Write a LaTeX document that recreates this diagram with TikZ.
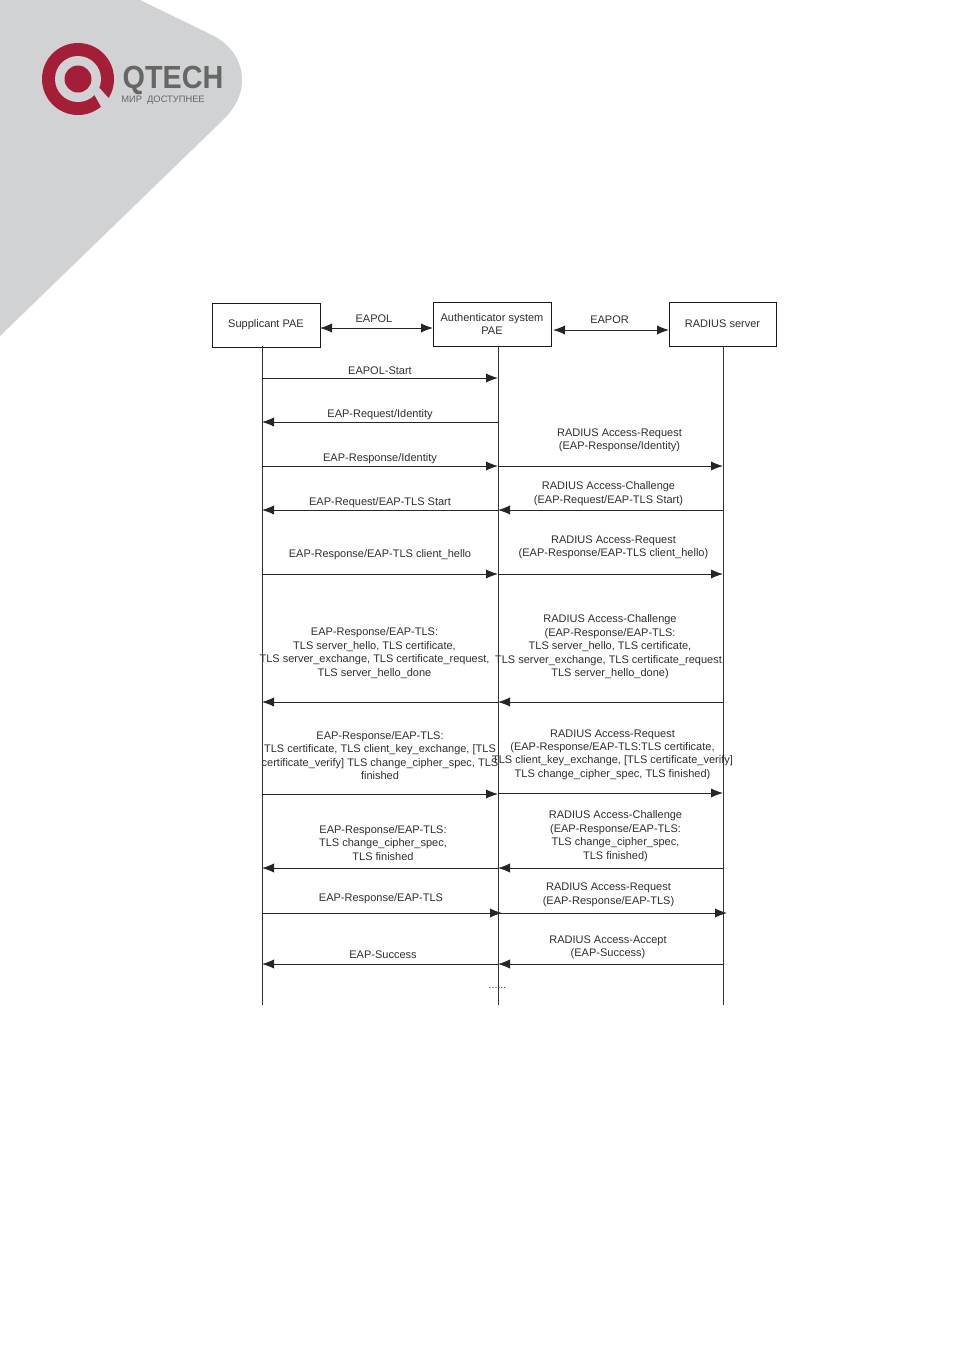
\documentclass[tikz,border=0pt]{standalone}
\usepackage{fontspec}
\setmainfont{Liberation Sans}
\usetikzlibrary{arrows.meta}
\definecolor{panelgray}{HTML}{D1D2D4}
\definecolor{logored}{HTML}{A51E38}
\definecolor{logogray}{HTML}{666666}
\definecolor{inkgray}{HTML}{2E2E2E}
\tikzset{
  entity/.style={draw=black!90, line width=0.75pt, fill=white, inner sep=0pt, align=center, font=\fontsize{8.25}{10.1}\selectfont, text=inkgray},
  lifeline/.style={draw=black!80, line width=0.75pt},
  msg/.style={draw=black!85, line width=0.75pt, -{Latex[length=9pt,width=7pt]}},
  dualmsg/.style={draw=black!85, line width=0.75pt, {Latex[length=9pt,width=7pt]}-{Latex[length=9pt,width=7pt]}},
  lbl/.style={inner sep=0pt, align=center, font=\fontsize{8.25}{10.1}\selectfont, text=inkgray},
}
\begin{document}
\begin{tikzpicture}[x=0.75pt,y=-0.75pt]
    \useasboundingbox (0,0) rectangle (955,1350);

    % Grey corner panel
    \fill[panelgray] (140,0) -- (212,35) .. controls (232,45) and (242,62) .. (242,80)
        .. controls (242,95) and (235,108) .. (224,119) -- (0,336) -- (0,0) -- cycle;

    % Logo ring and dot
    \fill[logored] (78,79) circle (36);
    \fill[panelgray] (78,79) circle (23);
    \fill[logored] (78,79) circle (13.5);
    \fill[panelgray] (90,87) -- (95,83) -- (113,103) -- (104,112) -- cycle;
    \node[inner sep=0pt, text=logogray, xscale=0.9, font=\fontsize{24}{24}\selectfont\bfseries] (brand) at (173,80.5) {QTECH};
    \node[inner sep=0pt, text=logogray, font=\fontsize{7}{8}\selectfont] (motto) at (163,100.5) {МИР\ \ ДОСТУПНЕЕ};

    % Three entities
    \node[entity, minimum width=81pt, minimum height=33pt] (supplicant) at (266,325) {\raisebox{-1.2pt}{Supplicant PAE}};
    \node[entity, minimum width=88.5pt, minimum height=33pt] (authenticator) at (492,324) {Authenticator system\\PAE};
    \node[entity, minimum width=80.25pt, minimum height=33pt] (radius) at (722.5,324) {RADIUS server};

    % Arrow ends on the three lifelines
    \foreach \n/\y in {top/346, a/378, b/422, c/466, d/510, e/574, f/702, g/794, h/868, i/913, j/964, end/1005} {
        \coordinate (s\n) at (262,\y);
        \coordinate (m\n) at (498,\y);
        \coordinate (r\n) at (723,\y);
    }
    \coordinate (rgs) at (723,793);
    \coordinate (mgs) at (498,793);
    \coordinate (mis) at (502,913);
    \coordinate (ris) at (727,913);
    \coordinate (eapolL) at (320,328);
    \coordinate (eapolR) at (433,328);
    \coordinate (eaporL) at (553,330);
    \coordinate (eaporR) at (669,330);

    % Lifelines
    \draw[lifeline] (stop) -- (send);
    \draw[lifeline] (mtop) -- (mend);
    \draw[lifeline] (rtop) -- (rend);

    % Links between the entities
    \draw[dualmsg] (eapolL) -- (eapolR);
    \draw[dualmsg] (eaporL) -- (eaporR);
    \node[lbl] (eapol) at (374,319) {EAPOL};
    \node[lbl] (eapor) at (609.5,320) {EAPOR};

    % Left side messages
    \draw[msg] (sa) -- (ma);
    \draw[msg] (mb) -- (sb);
    \draw[msg] (sc) -- (mc);
    \draw[msg] (md) -- (sd);
    \draw[msg] (se) -- (me);
    \draw[msg] (mf) -- (sf);
    \draw[msg] (sg) -- (mg);
    \draw[msg] (mh) -- (sh);
    \draw[msg] (si) -- (mis);
    \draw[msg] (mj) -- (sj);

    % Right side messages
    \draw[msg] (mc) -- (rc);
    \draw[msg] (rd) -- (md);
    \draw[msg] (me) -- (re);
    \draw[msg] (rf) -- (mf);
    \draw[msg] (mgs) -- (rgs);
    \draw[msg] (rh) -- (mh);
    \draw[msg] (mi) -- (ris);
    \draw[msg] (rj) -- (mj);

    % Labels for the left side
    \node[lbl] (la) at (380,370.5) {EAPOL-Start};
    \node[lbl] (lb) at (380,415) {EAP-Request/Identity};
    \node[lbl] (lc) at (380,458.5) {EAP-Response/Identity};
    \node[lbl] (ld) at (380,503) {EAP-Request/EAP-TLS Start};
    \node[lbl] (le) at (380,554.5) {EAP-Response/EAP-TLS client\_hello};
    \node[lbl] (lf) at (374.5,653) {EAP-Response/EAP-TLS:\\TLS server\_hello, TLS certificate,\\TLS server\_exchange, TLS certificate\_request,\\TLS server\_hello\_done};
    \node[lbl] (lg) at (380,755.5) {EAP-Response/EAP-TLS:\\TLS certificate, TLS client\_key\_exchange, [TLS\\certificate\_verify] TLS change\_cipher\_spec, TLS\\finished};
    \node[lbl] (lh) at (383,843) {EAP-Response/EAP-TLS:\\TLS change\_cipher\_spec,\\TLS finished};
    \node[lbl] (li) at (381,899) {EAP-Response/EAP-TLS};
    \node[lbl] (lj) at (383,954.5) {EAP-Success};

    % Labels for the right side
    \node[lbl] (rc1) at (619.5,440.5) {RADIUS Access-Request\\(EAP-Response/Identity)};
    \node[lbl] (rd1) at (608.5,493.5) {RADIUS Access-Challenge\\(EAP-Request/EAP-TLS Start)};
    \node[lbl] (re1) at (613.5,547.5) {RADIUS Access-Request\\(EAP-Response/EAP-TLS client\_hello)};
    \node[lbl] (rf1) at (610,647) {RADIUS Access-Challenge\\(EAP-Response/EAP-TLS:\\TLS server\_hello, TLS certificate,\\TLS server\_exchange, TLS certificate\_request,\\TLS server\_hello\_done)};
    \node[lbl] (rg1) at (612.5,754.5) {RADIUS Access-Request\\(EAP-Response/EAP-TLS:TLS certificate,\\TLS client\_key\_exchange, [TLS certificate\_verify]\\TLS change\_cipher\_spec, TLS finished)};
    \node[lbl] (rh1) at (615.5,836) {RADIUS Access-Challenge\\(EAP-Response/EAP-TLS:\\TLS change\_cipher\_spec,\\TLS finished)};
    \node[lbl] (ri1) at (608.5,895) {RADIUS Access-Request\\(EAP-Response/EAP-TLS)};
    \node[lbl] (rj1) at (608,947.5) {RADIUS Access-Accept\\(EAP-Success)};

    % Trailing dots
    \node[inner sep=0pt, text=inkgray, font=\fontsize{8}{9}\selectfont] (more) at (497.5,988) {......};
\end{tikzpicture}
\end{document}
